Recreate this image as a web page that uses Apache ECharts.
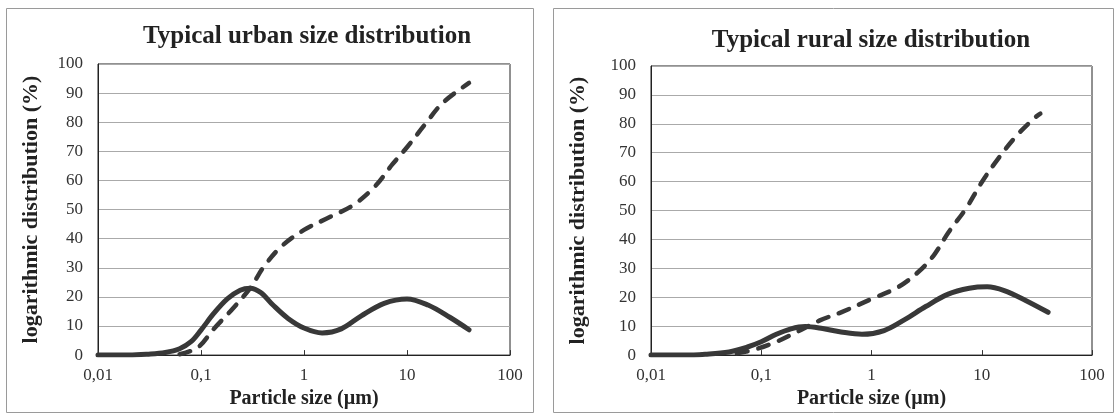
<!DOCTYPE html>
<html><head><meta charset="utf-8">
<script src="https://cdn.jsdelivr.net/npm/echarts@6/dist/echarts.min.js"></script>
<style>html,body{margin:0;padding:0;background:#fff}#c{width:1115px;height:414px}</style>
</head><body><div id="c"></div>
<script>
// Urban panel
const urbanSolid = [[0.01,0],[0.02,0],[0.03,0.3],[0.045,0.9],[0.062,2.2],[0.08,4.6],[0.1,8.6],[0.133,14.3],[0.18,19.3],[0.24,22.3],[0.3,23],[0.38,21.5],[0.5,17.2],[0.7,12.6],[1,9.3],[1.5,7.6],[2.3,9],[3.6,13.5],[6,17.8],[10,19.3],[16,17.2],[26,13],[40,8.7]];
const urbanDashed = [[0.062,0.3],[0.093,2.6],[0.133,9],[0.2,15.7],[0.3,23],[0.41,30.5],[0.61,37.5],[1,43],[1.8,47.5],[3,51.5],[4.9,58],[7.2,65.5],[10,71.4],[15,79.3],[22,86.5],[40,93.5]];
// Rural panel
const ruralSolid = [[0.01,0],[0.02,0],[0.031,0.3],[0.051,1.1],[0.075,2.8],[0.1,4.6],[0.137,7.2],[0.186,9.1],[0.25,9.9],[0.36,9.2],[0.53,8],[0.82,7.2],[1.3,8.5],[2,12.3],[3.1,16.8],[4.9,21],[7.7,23.1],[11.2,23.6],[16,22.3],[25,18.9],[40,14.8]];
const ruralDashed = [[0.06,0.6],[0.087,1.9],[0.137,4.6],[0.21,8],[0.34,12],[0.53,14.8],[1,19.4],[1.74,23.5],[2.7,29],[3.7,34.7],[5,42.5],[7.2,50.7],[10,59.8],[14,67.8],[20.5,75.7],[30,82],[34,83.5]];
const titles = ['Typical urban size distribution','Typical rural size distribution'];
const xName = 'Particle size (µm)';
const yName = 'logarithmic distribution (%)';

const font = 'Liberation Serif, Times New Roman, serif';
const ink = '#383838';
const chart = echarts.init(document.getElementById('c'));
function xAxis(i){return {type:'log',logBase:10,min:0.01,max:100,gridIndex:i,
  name:xName,nameLocation:'middle',nameGap:33,
  nameTextStyle:{fontFamily:font,fontWeight:'bold',fontSize:20,color:'#222'},
  axisLine:{lineStyle:{color:'#222',width:1}},
  axisTick:{show:true,inside:true,length:5,lineStyle:{color:'#333'}},
  splitLine:{show:false},minorTick:{show:false},
  axisLabel:{fontFamily:font,fontSize:17,color:'#333',margin:12,
    formatter:v=>String(+v.toPrecision(3)).replace('.',',')}};}
function yAxis(i,gap){return {type:'value',min:0,max:100,interval:10,gridIndex:i,
  name:yName,nameLocation:'middle',nameGap:gap,nameRotate:90,
  nameTextStyle:{fontFamily:font,fontWeight:'bold',fontSize:22,color:'#222'},
  axisLine:{show:true,lineStyle:{color:'#222'}},axisTick:{show:false},
  splitLine:{show:true,lineStyle:{color:'#aaaaaa',width:1}},
  axisLabel:{fontFamily:font,fontSize:17,color:'#333',margin:15}};}
function solid(data,i){return {type:'line',data:data,xAxisIndex:i,yAxisIndex:i,smooth:0.35,showSymbol:false,symbol:'none',
  lineStyle:{color:ink,width:5,cap:'round',join:'round'},z:3};}
function dashed(data,i){return {type:'line',data:data,xAxisIndex:i,yAxisIndex:i,smooth:0.35,showSymbol:false,symbol:'none',
  lineStyle:{color:ink,width:4.5,type:[11,11],cap:'round',join:'round'},z:2};}
chart.setOption({
  animation:false,
  title:[
    {text:titles[0],left:302,top:19,textAlign:'center',textStyle:{fontFamily:font,fontWeight:'bold',fontSize:25,color:'#222'}},
    {text:titles[1],left:866,top:23,textAlign:'center',textStyle:{fontFamily:font,fontWeight:'bold',fontSize:25,color:'#222'}}
  ],
  grid:[
    {left:98,right:605,top:64,bottom:57,show:true,borderColor:'#222',borderWidth:1,backgroundColor:'transparent'},
    {left:651,right:23,top:66,bottom:57,show:true,borderColor:'#222',borderWidth:1,backgroundColor:'transparent'}
  ],
  xAxis:[xAxis(0),xAxis(1)],
  yAxis:[yAxis(0,56),yAxis(1,62)],
  graphic:[
    {type:'rect',shape:{x:6.5,y:8.5,width:527,height:404},style:{fill:'none',stroke:'#9a9a9a',lineWidth:1},silent:true},
    {type:'rect',shape:{x:553.5,y:8.5,width:560,height:404},style:{fill:'none',stroke:'#9a9a9a',lineWidth:1},silent:true}
  ],
  series:[solid(urbanSolid,0),dashed(urbanDashed,0),solid(ruralSolid,1),dashed(ruralDashed,1)]
});
</script></body></html>
